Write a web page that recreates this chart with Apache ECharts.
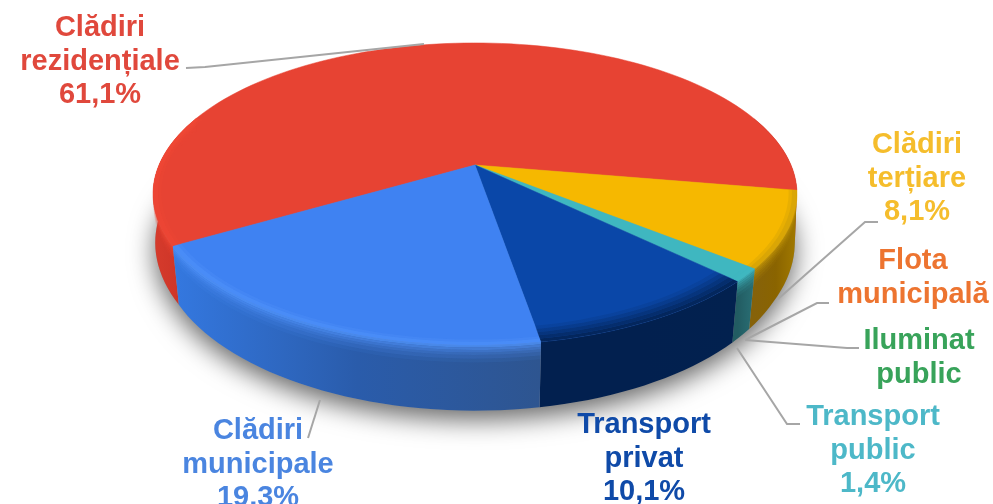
<!DOCTYPE html>
<html>
<head>
<meta charset="utf-8">
<script src="https://cdn.jsdelivr.net/npm/echarts@6/dist/echarts.min.js"></script>
<style>
html, body { margin: 0; padding: 0; background: #fff; }
#main { width: 993px; height: 504px; filter: blur(0.5px); }
</style>
</head>
<body>
<div id="main"></div>
<script>
// date grafic
var categories = ["Clădiri rezidențiale", "Clădiri terțiare", "Flota municipală", "Iluminat public", "Transport public", "Transport privat", "Clădiri municipale"];
var values = [61.1, 8.1, 0, 0, 1.4, 10.1, 19.3];
var labelLines = [["Clădiri", "rezidențiale"], ["Clădiri", "terțiare"], ["Flota", "municipală"], ["Iluminat", "public"], ["Transport", "public"], ["Transport", "privat"], ["Clădiri", "municipale"]];

// culori
var topColors = ["#e74333", "#f6b800", "#ed7d31", "#3aa655", "#3fb7c0", "#0a47a8", "#3f82f2"];
var rimColors = ["#f04836", "#c89a08", "#ed7d31", "#3aa655", "#3fb7c0", "#0a47a8", "#5093fa"];
var wallStops = [
	["#d63b2c", "#cf3629", "#c23226"],
	["#86620a", "#8a6400", "#a27a00"],
	["#000", "#000", "#000"],
	["#000", "#000", "#000"],
	["#225c62", "#26666c", "#2a7074"],
	["#02204f", "#02204f", "#02214f"],
	["#3478e0", "#2a5cab", "#2e5590"]
];
var textColors = ["#e0483c", "#f5bd2c", "#ed7430", "#38a35a", "#4db8c8", "#0f4aa8", "#4a85e0"];

// pozitii etichete: centru text, prima linie, linie de legatura
var labelPos = [
	{ x: 100, y: 28, line: [[186, 68], [205, 67], [424, 44]] },
	{ x: 917, y: 145, line: [[778, 299], [865, 222], [878, 222]] },
	{ x: 913, y: 261, line: [[745, 340], [817, 303], [829, 303]] },
	{ x: 919, y: 341, line: [[745, 340], [847, 348], [859, 348]] },
	{ x: 873, y: 417, line: [[737, 348], [787, 424], [800, 424]] },
	{ x: 644, y: 425, line: null },
	{ x: 258, y: 431, line: [[320, 400], [308, 438]] }
];
var lineHeight = 33.5;

// geometrie pie (proiectie in perspectiva)
var cx = 475, cy = 165, rx = 316, ry = 145.5, persp = 0.192, depth = 53;
var startAngle = 9.7; // capatul feliei rosii
var total = 0, i;
for (i = 0; i < values.length; i++) total += values[i];

// unghiuri pentru fiecare felie, rosu se termina la startAngle
var spans = [];
(function() {
	var a = startAngle + 360 - values[0] / total * 360;
	spans[0] = [a, a + values[0] / total * 360];
	a = startAngle;
	for (var k = 1; k < values.length; k++) {
		var e = a + values[k] / total * 360;
		spans[k] = [a, e];
		a = e;
	}
})();

function project(deg, r, drop) {
	var rad = deg * Math.PI / 180;
	var u = Math.cos(rad) * r, v = Math.sin(rad) * r;
	var w = 1 - persp * v;
	var d = drop || 0;
	// baza e putin mai ingusta in fata, nu si pe laterale
	var shrink = 1 - 0.02 * d / depth * Math.min(1, Math.max(0, v) * 2);
	return [cx + rx * u / w * shrink, cy + ry * v / w + d / w];
}

function arc(a0, a1, r, drop) {
	var pts = [], n = Math.max(2, Math.ceil(Math.abs(a1 - a0) / 2));
	for (var k = 0; k <= n; k++) {
		pts.push(project(a0 + (a1 - a0) * k / n, r, drop));
	}
	return pts;
}

// partea din felie vizibila pe perete (fata)
function frontSpan(idx) {
	var s = spans[idx], parts = [];
	[[-20, 200], [340, 560]].forEach(function(w) {
		var a0 = Math.max(s[0], w[0]), a1 = Math.min(s[1], w[1]);
		if (a1 > a0) parts.push([a0, a1]);
	});
	return parts;
}

function wallFill(idx, parts) {
	var xs = [];
	parts.forEach(function(p) {
		arc(p[0], p[1], 1, 0).forEach(function(q) { xs.push(q[0]); });
	});
	var c = wallStops[idx];
	return new echarts.graphic.LinearGradient(Math.min.apply(null, xs), 0, Math.max.apply(null, xs), 0, [
		{ offset: 0, color: c[0] }, { offset: 0.5, color: c[1] }, { offset: 1, color: c[2] }
	], true);
}

function renderShadow() {
	return {
		type: "polygon",
		shape: { points: arc(0, 360, 1, depth) },
		style: { fill: "#999", shadowBlur: 26, shadowColor: "rgba(0,0,0,0.6)", shadowOffsetY: 9 }
	};
}

function renderWall(params, api) {
	var idx = api.value(0), children = [];
	var parts = frontSpan(idx);
	if (!parts.length || values[idx] === 0) return { type: "group", children: [] };
	// rosu: partea stanga si partea dreapta au gradiente separate
	parts.forEach(function(p) {
		var pts = arc(p[0], p[1], 1, 0).concat(arc(p[0], p[1], 1, depth).reverse());
		var onRight = idx === 0 && p[0] > 300;
		children.push({
			type: "polygon",
			shape: { points: pts },
			style: { fill: onRight ? "#9a2a20" : wallFill(idx, [p]) }
		});
	});
	return { type: "group", children: children };
}

function renderTop(params, api) {
	var idx = api.value(0);
	if (values[idx] === 0) return { type: "group", children: [] };
	var s = spans[idx];
	return {
		type: "polygon",
		shape: { points: [project(0, 0)].concat(arc(s[0], s[1], 1, 0)) },
		style: { fill: topColors[idx], stroke: topColors[idx], lineWidth: 0.5 }
	};
}

// tranzitie moale intre fata de sus si perete
function renderRim(params, api) {
	var idx = api.value(0), children = [];
	if (values[idx] === 0) return { type: "group", children: [] };
	frontSpan(idx).forEach(function(p) {
		if (idx === 0 && p[0] > 300) return;
		var k, fill = wallFill(idx, [p]);
		if (idx === 5) {
			// transport privat: umbra urca pe fata de sus
			var radii = [0.925, 0.94, 0.955, 0.97, 0.985, 1];
			for (k = 0; k < radii.length - 1; k++) {
				children.push({
					type: "polygon",
					shape: { points: arc(p[0], p[1], radii[k], 0).concat(arc(p[0], p[1], radii[k + 1], 0).reverse()) },
					style: { fill: fill, opacity: 0.12 + k * 0.18 }
				});
			}
			return;
		}
		// dunga deschisa care se stinge in jos pe perete
		var drops = [0, 2, 4, 6, 8, 11, 14];
		var fades = [0.8, 0.62, 0.46, 0.32, 0.2, 0.08];
		for (k = 0; k < drops.length - 1; k++) {
			children.push({
				type: "polygon",
				shape: { points: arc(p[0], p[1], 1, drops[k]).concat(arc(p[0], p[1], 1, drops[k + 1]).reverse()) },
				style: { fill: rimColors[idx], opacity: fades[k] }
			});
		}
		var inner = [0.975, 0.985, 1];
		for (k = 0; k < inner.length - 1; k++) {
			children.push({
				type: "polygon",
				shape: { points: arc(p[0], p[1], inner[k], 0).concat(arc(p[0], p[1], inner[k + 1], 0).reverse()) },
				style: { fill: rimColors[idx], opacity: 0.3 + k * 0.3 }
			});
		}
	});
	return { type: "group", children: children };
}

function renderLabel(params, api) {
	var idx = api.value(0), pos = labelPos[idx], children = [];
	var lines = labelLines[idx].slice();
	if (values[idx] > 0) lines.push(values[idx].toFixed(1).replace(".", ",") + "%");
	if (pos.line) {
		children.push({
			type: "polyline",
			shape: { points: pos.line },
			style: { fill: null, stroke: "#a6a6a6", lineWidth: 2 }
		});
	}
	lines.forEach(function(txt, k) {
		children.push({
			type: "text",
			style: {
				text: txt, x: pos.x, y: pos.y + k * lineHeight,
				fill: textColors[idx], align: "center", verticalAlign: "middle",
				font: "bold 29px 'Liberation Sans', Arial, sans-serif"
			}
		});
	});
	return { type: "group", children: children };
}

var seriesData = categories.map(function(c, k) { return [k, values[k], c]; });
var myChart = echarts.init(document.getElementById("main"), null, { renderer: "canvas" });
myChart.setOption({
	animation: false,
	backgroundColor: "#fff",
	series: [
		{ type: "custom", coordinateSystem: "none", renderItem: renderShadow, data: [[0]], silent: true, z: 1 },
		{ type: "custom", coordinateSystem: "none", renderItem: renderWall, data: seriesData, silent: true, z: 2 },
		{ type: "custom", coordinateSystem: "none", renderItem: renderTop, data: seriesData, silent: true, z: 3 },
		{ type: "custom", coordinateSystem: "none", renderItem: renderRim, data: seriesData, silent: true, z: 4 },
		{ type: "custom", coordinateSystem: "none", renderItem: renderLabel, data: seriesData, silent: true, z: 5 }
	]
});
</script>
</body>
</html>
